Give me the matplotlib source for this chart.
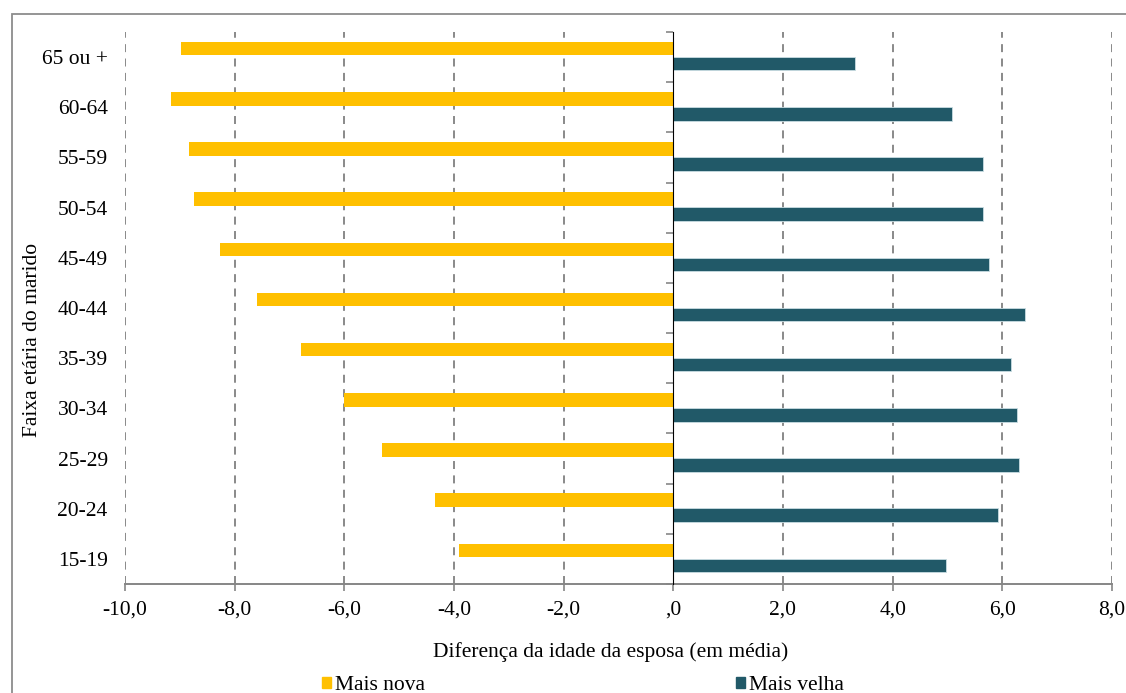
import numpy as np
import matplotlib
matplotlib.use('Agg')
import matplotlib.pyplot as plt
from matplotlib.patches import Rectangle, Patch

plt.rcParams['font.family'] = ['Liberation Serif', 'DejaVu Serif']

# 남편 연령대별 아내 나이 차이 (평균)
faixas = ['15-19', '20-24', '25-29', '30-34', '35-39', '40-44',
          '45-49', '50-54', '55-59', '60-64', '65 ou +']
mais_nova = [-3.90, -4.35, -5.31, -6.01, -6.79, -7.60,
             -8.27, -8.75, -8.83, -9.16, -8.97]
mais_velha = [4.98, 5.93, 6.30, 6.26, 6.15, 6.42,
              5.75, 5.65, 5.65, 5.08, 3.32]
xticks = [-10, -8, -6, -4, -2, 0, 2, 4, 6, 8]
xtick_labels = ['-10,0', '-8,0', '-6,0', '-4,0', '-2,0', ',0',
                '2,0', '4,0', '6,0', '8,0']

C_NOVA = '#FFC000'
C_VELHA = '#215968'
GREY = '#868686'
GRID = '#707070'
FS = 15.5

W, H = 1126, 693
fig = plt.figure(figsize=(W / 100, H / 100), dpi=100)
fig.patch.set_facecolor('white')

# 바깥 테두리 (오른쪽/아래는 잘림)
fig.patches.append(Rectangle((12 / W, -0.2), 1.2, 1 - 14 / H + 0.2,
                             transform=fig.transFigure, fill=False,
                             edgecolor='#8c8c8c', lw=1.3))

ax = fig.add_axes([125 / W, (H - 584) / H, (1112 - 125) / W, (584 - 32) / H])

y = np.arange(len(faixas))
h = 0.27
ax.barh(y + 0.17, mais_nova, height=h, color=C_NOVA, zorder=3, label='Mais nova')
ax.barh(y - 0.13, mais_velha, height=h, color=C_VELHA, edgecolor='#c9dde2',
        lw=0.6, zorder=3, label='Mais velha')

ax.set_xlim(-10, 8)
ax.set_ylim(-0.5, len(faixas) - 0.5)

# 세로 점선 격자
for xv in xticks:
    if xv == 0:
        continue
    ax.axvline(xv, color=GRID, lw=1.15, ls=(0, (5, 4)), zorder=1)

for s in ['top', 'right', 'left']:
    ax.spines[s].set_visible(False)
ax.spines['bottom'].set_color(GREY)
ax.spines['bottom'].set_linewidth(1.4)

ax.set_xticks(xticks)
ax.set_xticklabels(xtick_labels, fontsize=FS)
ax.tick_params(axis='x', direction='out', length=5, width=1.2, color=GREY, pad=7)

ax.set_yticks(y)
ax.set_yticklabels(faixas, fontsize=FS)
ax.tick_params(axis='y', length=0, pad=12.5)

# 0 위치의 세로축과 구간 눈금
zero_ax = ax.secondary_yaxis(10 / 18)
zero_ax.spines['left'].set_color(GREY)
zero_ax.spines['left'].set_linewidth(1.4)
zero_ax.set_yticks(np.arange(-0.5, len(faixas), 1.0))
zero_ax.set_yticklabels([])
zero_ax.tick_params(axis='y', direction='in', length=5, width=1.2, color=GREY)
zero_ax.set_zorder(4)

ax.set_xlabel('Diferença da idade da esposa (em média)', fontsize=FS)
ax.xaxis.set_label_coords(0.492, -0.123)
ax.xaxis.label.set_va('center')
ax.set_ylabel('Faixa etária do marido', fontsize=FS)
ax.yaxis.set_label_coords(-0.094, 0.442)
ax.yaxis.label.set_va('center')

# 범례 (항목별로 위치 지정)
for lab, col, x0 in [('Mais nova', C_NOVA, 322), ('Mais velha', C_VELHA, 736)]:
    leg = fig.legend(handles=[Patch(color=col, label=lab)], loc='center left',
                     bbox_to_anchor=(x0 / W, (H - 686) / H), frameon=False,
                     fontsize=FS, handlelength=0.4, handleheight=0.4,
                     handletextpad=0.2, borderpad=0, borderaxespad=0)

fig.savefig('out.png', dpi=100, facecolor='white')
